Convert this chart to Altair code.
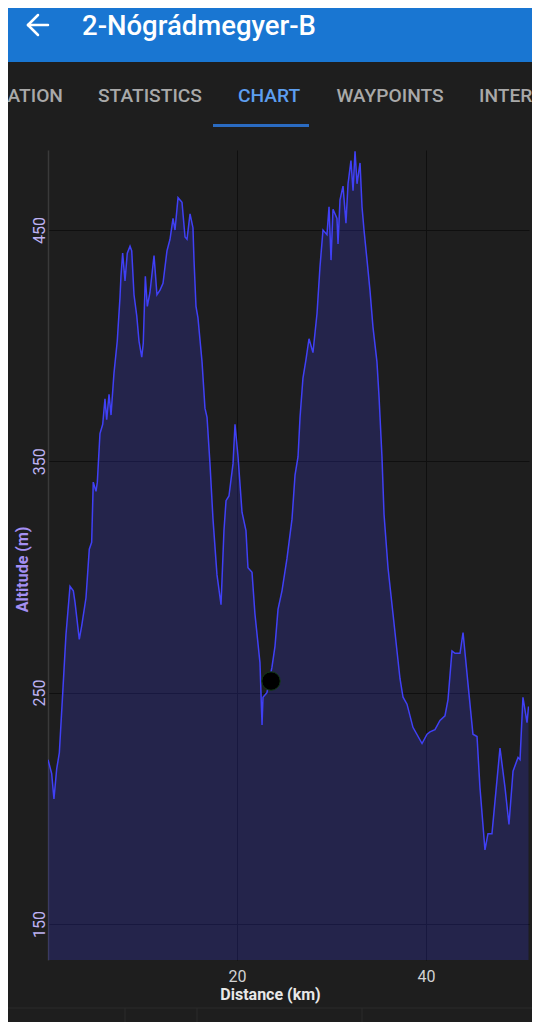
import altair as alt
import pandas as pd

# ---- data ----
KM = [0.0, 0.39, 0.63, 0.92, 1.20, 1.56, 1.90, 2.33, 2.68, 2.86,
      3.31, 3.57, 4.02, 4.37, 4.62, 4.79, 5.08, 5.22, 5.50, 5.79,
      6.03, 6.21, 6.46, 6.67, 6.98, 7.33, 7.62, 7.72, 7.90, 8.15,
      8.39, 8.68, 8.86, 9.10, 9.39, 9.63, 9.92, 10.08, 10.30, 10.51,
      10.79, 11.22, 11.53, 11.85, 12.17, 12.59, 12.91, 13.23, 13.44, 13.76,
      14.18, 14.50, 14.71, 15.03, 15.34, 15.45, 15.66, 15.87, 16.30, 16.61,
      16.83, 17.14, 17.46, 17.88, 18.31, 18.62, 18.84, 19.15, 19.58, 19.79,
      20.11, 20.53, 20.95, 21.16, 21.59, 21.90, 22.43, 22.65, 22.75, 23.17,
      23.70, 24.02, 24.34, 24.76, 25.29, 25.82, 26.14, 26.46, 26.67, 26.98,
      27.30, 27.62, 28.04, 28.47, 28.78, 29.10, 29.52, 29.74, 29.95, 30.16,
      30.58, 30.69, 30.90, 31.22, 31.53, 31.75, 32.06, 32.28, 32.49, 32.70,
      33.02, 33.23, 33.44, 33.76, 34.07, 34.39, 34.81, 35.03, 35.34, 35.56,
      35.98, 36.51, 36.93, 37.25, 37.57, 37.99, 38.62, 39.58, 40.11, 40.42,
      40.95, 41.48, 42.01, 42.33, 42.75, 43.07, 43.60, 43.92, 44.44, 44.97,
      45.40, 45.71, 46.24, 46.56, 46.98, 47.30, 47.83, 48.36, 48.78, 49.21,
      49.74, 49.95, 50.26, 50.69, 50.85]
ALT = [221, 215, 204, 217, 224, 250, 275, 296, 294, 289,
       273, 279, 291, 312, 315, 341, 337, 341, 362, 366,
       377, 368, 379, 370, 388, 402, 421, 430, 440, 428,
       440, 443, 441, 422, 413, 402, 395, 401, 430, 417,
       423, 439, 422, 424, 427, 441, 446, 455, 450, 464,
       462, 447, 446, 457, 451, 437, 417, 412, 393, 373,
       369, 349, 325, 301, 288, 320, 333, 335, 349, 366,
       352, 328, 320, 304, 302, 284, 263, 236, 248, 250,
       261, 270, 286, 294, 308, 325, 344, 352, 369, 386,
       394, 403, 397, 414, 434, 450, 448, 460, 437, 459,
       455, 444, 463, 469, 453, 470, 480, 467, 484, 470,
       479, 460, 450, 437, 424, 408, 393, 378, 352, 327,
       304, 284, 268, 256, 248, 245, 235, 228, 232, 233,
       234, 238, 240, 247, 268, 267, 267, 276, 254, 232,
       231, 209, 182, 189, 189, 203, 226, 209, 193, 216,
       222, 221, 248, 237, 244]
X_DOMAIN = [0, 50.9]
Y_DOMAIN = [134.4, 484.6]
X_TICKS = [20, 40]
Y_TICKS = [150, 250, 350, 450]
MARK_KM = [23.6]
MARK_ALT = [255]
TITLE = "2-Nógrádmegyer-B"
TABS = ["INFORMATION", "STATISTICS", "CHART", "WAYPOINTS", "INTERVALS"]

FONT = "Roboto"
BG = "#1e1e1e"

df = pd.DataFrame({"km": KM, "alt": ALT, "base": Y_DOMAIN[0]})

xs = alt.Scale(domain=X_DOMAIN, nice=False, zero=False)
ys = alt.Scale(domain=Y_DOMAIN, nice=False, zero=False)

x_axis = alt.Axis(values=X_TICKS, format="d", grid=True, gridColor="#0f0f0f", gridWidth=1,
                  domain=False, ticks=False, labelFlush=False,
                  labelColor="#d2d2d2", labelFont=FONT, labelFontSize=16, labelPadding=8,
                  title="Distance (km)", titleFont=FONT, titleFontSize=16, titleFontWeight="bold",
                  titleColor="#e8e8e8", titleX=222, titleY=39, titleAlign="center",
                  titleBaseline="alphabetic")
y_axis = alt.Axis(values=Y_TICKS, format="d", grid=True, gridColor="#0f0f0f", gridWidth=1,
                  domain=True, domainColor="#3a3a3a", domainWidth=1.5, ticks=False,
                  labelFlush=False, labelAngle=270, labelAlign="center",
                  labelBaseline="alphabetic", labelPadding=4,
                  labelColor="#bdb2f2", labelFont=FONT, labelFontSize=16,
                  title="Altitude (m)", titleAngle=270, titleX=-21, titleY=419,
                  titleAlign="center", titleBaseline="alphabetic", titleColor="#a48ff3",
                  titleFont=FONT, titleFontSize=16, titleFontWeight="bold")

area = alt.Chart(df).mark_area(color="#3b3bff", opacity=0.2, clip=True).encode(
    x=alt.X("km:Q", scale=xs, axis=x_axis),
    y=alt.Y("alt:Q", scale=ys, axis=y_axis),
    y2="base:Q",
)
line = alt.Chart(df).mark_line(color="#4040f6", strokeWidth=1.5, clip=True).encode(
    x=alt.X("km:Q", scale=xs),
    y=alt.Y("alt:Q", scale=ys),
)
marker = alt.Chart(pd.DataFrame({"km": MARK_KM, "alt": MARK_ALT})).mark_point(
    filled=True, fill="black", stroke="#123b14", strokeWidth=1, size=340, opacity=1
).encode(x=alt.X("km:Q", scale=xs), y=alt.Y("alt:Q", scale=ys))

one = pd.DataFrame({"a": [0]})

def rect(x1, x2, y1, y2, color):
    return alt.Chart(one).mark_rect(color=color).encode(
        x=alt.value(x1), x2=alt.value(x2), y=alt.value(y1), y2=alt.value(y2))

def rule(x1, y1, x2, y2, color, w):
    return alt.Chart(one).mark_rule(color=color, strokeWidth=w, strokeCap="round").encode(
        x=alt.value(x1), x2=alt.value(x2), y=alt.value(y1), y2=alt.value(y2))

def text(s, x, y, size, color, weight="normal", align="left"):
    return alt.Chart(one).mark_text(text=s, font=FONT, fontSize=size, fontWeight=weight,
                                    color=color, align=align, baseline="alphabetic").encode(
        x=alt.value(x), y=alt.value(y))

TAB_SIZE = 19.2
header = [
    rect(-60, 520, -160, -88, "#1976d2"),
    rule(-20, -125, 0, -125, "white", 2.5),
    rule(-20, -125, -10, -135, "white", 2.5),
    rule(-20, -125, -10, -115, "white", 2.5),
    text(TITLE, 34, -115, 27.5, "white", 500),
    text(TABS[0], 15, -48, TAB_SIZE, "#a9a9a9", 500, "right"),
    text(TABS[1], 102, -48, TAB_SIZE, "#a9a9a9", 500, "center"),
    text(TABS[2], 221, -48, TAB_SIZE, "#5d9ef0", 500, "center"),
    text(TABS[3], 342, -48, TAB_SIZE, "#a9a9a9", 500, "center"),
    text(TABS[4], 431, -48, TAB_SIZE, "#a9a9a9", 500, "left"),
    rect(165, 261, -26, -23, "#2a6bc2"),
    rule(-60, 858, 520, 858, "#2b2b2b", 1),
    rule(77, 858, 77, 880, "#2b2b2b", 1),
    rule(149, 858, 149, 880, "#2b2b2b", 1),
    rule(314, 858, 314, 880, "#2b2b2b", 1),
]

chart = alt.layer(*header, area, line, marker).properties(
    width=481, height=810,
    padding={"left": 40, "top": 142, "right": 3, "bottom": 62},
    autosize=alt.AutoSizeParams(type="none"),
    background=BG,
).configure_view(strokeWidth=0)

chart.save("out.html", embed_options={"renderer": "svg", "actions": False})
